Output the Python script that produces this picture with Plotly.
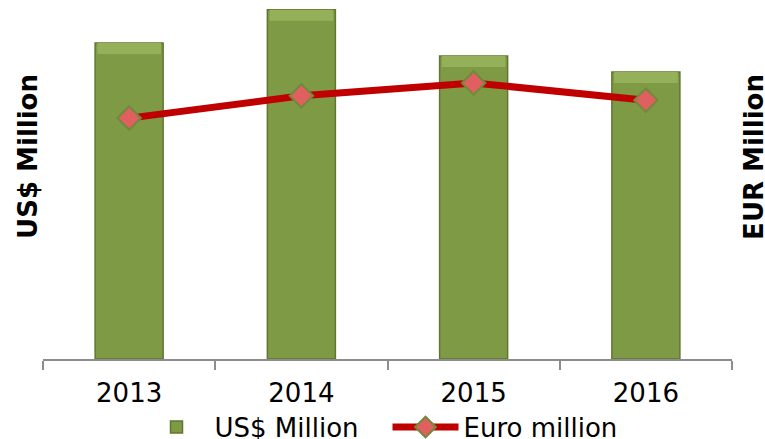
import plotly.graph_objects as go

years = ["2013", "2014", "2015", "2016"]
usd_million = [1056, 1167, 1013, 959]
eur_million = [671, 733, 769, 721]

Y1_MAX = 1200
Y2_MAX = 1000
PLOT_H = 359
hl = 11 / PLOT_H * Y1_MAX  # top bevel strip height in data units

fig = go.Figure()
fig.add_trace(go.Bar(
    x=years, y=usd_million, name="US$ Million", width=0.395,
    marker=dict(color="#7E9A45", line=dict(color="#5F7731", width=1.5)),
    yaxis="y",
))
fig.add_trace(go.Bar(
    x=years, y=[hl] * len(years), base=[v - hl for v in usd_million],
    width=0.37, showlegend=False, hoverinfo="skip",
    marker=dict(color="#94B15A", line=dict(width=0)),
    yaxis="y",
))
fig.add_trace(go.Scatter(
    x=years, y=eur_million, name="Euro million", mode="lines+markers",
    line=dict(color="#C00000", width=7),
    marker=dict(symbol="diamond", size=18, color="#E0605F",
                line=dict(color="#6E8A3A", width=2)),
    yaxis="y2",
))

fig.update_layout(
    width=765, height=439,
    margin=dict(l=43, r=33, t=0, b=80, autoexpand=False),
    paper_bgcolor="white", plot_bgcolor="white",
    barmode="overlay",
    font=dict(family="DejaVu Sans", size=26, color="#000000"),
    xaxis=dict(
        type="category", showgrid=False, showline=True, linecolor="#8C8C8C",
        linewidth=1.5, ticks="outside", tickson="boundaries", ticklen=9,
        tickcolor="#8C8C8C", tickwidth=1.5, ticklabelstandoff=10,
        tickfont=dict(family="DejaVu Sans", size=26, color="#000000"),
    ),
    yaxis=dict(range=[0, Y1_MAX], showgrid=False, showticklabels=False,
               zeroline=False, showline=False),
    yaxis2=dict(range=[0, Y2_MAX], overlaying="y", side="right",
                showgrid=False, showticklabels=False, zeroline=False,
                showline=False),
    legend=dict(orientation="h", x=0.5, xanchor="center", yref="container",
                y=0.027, yanchor="middle", entrywidth=168,
                bgcolor="rgba(0,0,0,0)",
                font=dict(family="DejaVu Sans", size=26, color="#000000"),
                itemwidth=66, tracegroupgap=0),
    showlegend=True,
    annotations=[
        dict(text="<b>US$ Million</b>", xref="paper", yref="paper", x=0,
             y=0.563, xshift=-15, xanchor="center", yanchor="middle",
             textangle=-90, showarrow=False,
             font=dict(family="DejaVu Sans", size=26, color="#000000")),
        dict(text="<b>EUR Million</b>", xref="paper", yref="paper", x=1,
             y=0.563, xshift=22, xanchor="center", yanchor="middle",
             textangle=-90, showarrow=False,
             font=dict(family="DejaVu Sans", size=26, color="#000000")),
    ],
)

fig.write_html(
    "out.html",
    config={"displayModeBar": False},
    post_script="document.body.style.margin='0';document.body.style.overflow='hidden';",
)
